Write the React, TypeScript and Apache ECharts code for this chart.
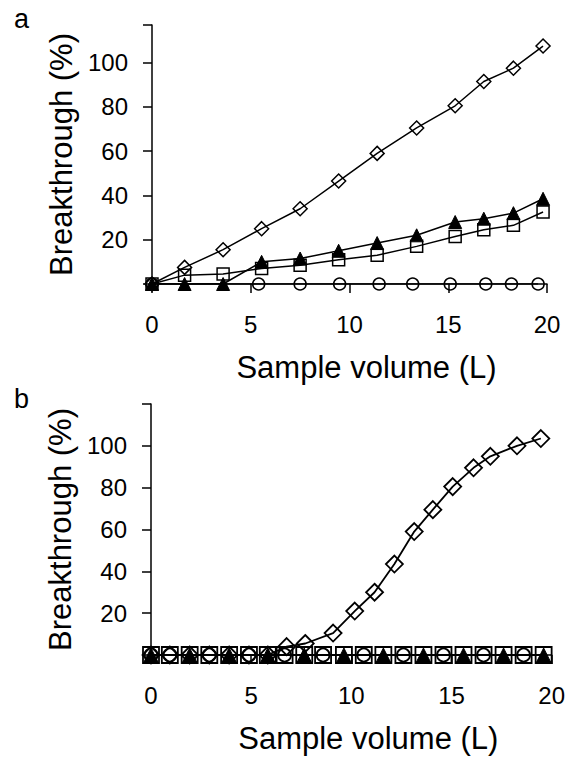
import React, { useEffect, useRef } from 'react';
import * as echarts from 'echarts';

// ---------- Panel a ----------
const aX = [0, 1.65, 3.6, 5.55, 7.5, 9.45, 11.4, 13.4, 15.35, 16.8, 18.3, 19.8];
const aDiamond = [0, 7.5, 15.5, 25, 34, 46.5, 59, 70.5, 80.5, 91.5, 97.5, 107.5];
const aSquare = [0, 4, 4.5, 7, 8.5, 11, 13, 17, 21.5, 24.5, 26.5, 32.5];
const aTriangle = [0, 0, 0, 10, 11.5, 15, 18.5, 22, 28, 29.5, 32, 38.5];
const aCircleX = [0, 5.4, 7.5, 9.5, 11.5, 13.2, 15.1, 16.9, 18.2, 19.55];
const aCircle = [0, 0, 0, 0, 0, 0, 0, 0, 0, 0];

// ---------- Panel b ----------
const bSquareX = [0, 0.94, 1.93, 2.91, 3.9, 4.89, 5.83, 6.67, 7.65, 8.59, 9.63, 10.62, 11.6, 12.6, 13.6, 14.6, 15.6, 16.6, 17.6, 18.6, 19.6];
const bSquare = [0, 0, 0, 0, 0, 0, 0, 0, 0, 0, 0, 0, 0, 0, 0, 0, 0, 0, 0, 0, 0];
const bTriangleX = [0, 1.93, 3.9, 5.83, 7.65, 9.63, 11.6, 13.6, 15.6, 17.6, 19.6];
const bTriangle = [0, 0, 0, 0, 0, 0, 0, 0, 0, 0, 0];
const bCircleX = [0, 0.94, 2.91, 4.89, 6.67, 8.59, 10.62, 12.6, 14.6, 16.6, 18.6];
const bCircle = [0, 0, 0, 0, 0, 0, 0, 0, 0, 0, 0];
const bDiamondX = [0, 0.94, 1.93, 2.91, 3.9, 4.89, 5.83, 6.77, 7.7, 9.09, 10.17, 11.16, 12.15, 13.14, 14.07, 15.06, 16.1, 16.94, 18.27, 19.46];
const bDiamond = [0, 0, 0, 0, 0, 0, 0, 4, 5.5, 10.5, 21, 30, 43.5, 59, 69.5, 80.5, 89.5, 95, 100, 103.5];

// ---------- Axes ----------
const xTicks = [0, 5, 10, 15, 20];
const yLabelValues = [20, 40, 60, 80, 100];
const aYMax = 117;
const bYMax = 120;
const xTitle = 'Sample volume (L)';
const yTitle = 'Breakthrough (%)';
const panelLabels = ['a', 'b'];

const FONT = 'Liberation Sans, Arial, sans-serif';

const pairs = (xs: number[], ys: number[]) => xs.map((x, i) => [x, ys[i]]);

function makeSeries(
  idx: number,
  data: number[][],
  symbol: string,
  size: number,
  filled: boolean,
  lw: number
) {
  return {
    type: 'line',
    xAxisIndex: idx,
    yAxisIndex: idx,
    data,
    symbol,
    symbolSize: size,
    showSymbol: true,
    lineStyle: { color: '#000', width: lw },
    itemStyle: {
      color: filled ? '#000' : 'rgba(0,0,0,0)',
      borderColor: '#000',
      borderWidth: filled ? 1 : lw,
    },
    emphasis: { disabled: true },
    z: 3,
  };
}

function xAxisFor(idx: number, lw: number) {
  return {
    type: 'value',
    gridIndex: idx,
    min: 0,
    max: 20,
    interval: 5,
    axisLine: { show: true, onZero: false, lineStyle: { color: '#000', width: lw } },
    axisTick: { show: true, length: 9, customValues: xTicks, lineStyle: { color: '#000', width: lw } },
    axisLabel: { customValues: xTicks, color: '#000', fontSize: 24, fontFamily: FONT, margin: 28 },
    splitLine: { show: false },
    name: xTitle,
    nameLocation: 'middle',
    nameGap: 68,
    nameTextStyle: { color: '#000', fontSize: 31, fontFamily: FONT, padding: [0, 0, 0, 34] },
  };
}

function yAxisFor(idx: number, max: number, lw: number) {
  return {
    type: 'value',
    gridIndex: idx,
    min: 0,
    max,
    interval: 20,
    axisLine: { show: true, lineStyle: { color: '#000', width: lw } },
    axisTick: {
      show: true,
      length: 9,
      customValues: [0, ...yLabelValues, max],
      lineStyle: { color: '#000', width: lw },
    },
    axisLabel: { customValues: yLabelValues, color: '#000', fontSize: 24, fontFamily: FONT, margin: 24 },
    splitLine: { show: false },
    name: yTitle,
    nameLocation: 'middle',
    nameRotate: 90,
    nameGap: 72,
    nameTextStyle: { color: '#000', fontSize: 31, fontFamily: FONT },
  };
}

export default function App() {
  const ref = useRef<HTMLDivElement>(null);
  useEffect(() => {
    document.body.style.margin = '0';
    if (!ref.current) return;
    const chart = echarts.init(ref.current, null, { renderer: 'svg' });
    chart.setOption({
      animation: false,
      backgroundColor: '#fff',
      grid: [
        { left: 152, top: 25, width: 395, height: 259 },
        { left: 151, top: 404, width: 406, height: 251 },
      ],
      xAxis: [xAxisFor(0, 1.5), xAxisFor(1, 1.5)],
      yAxis: [yAxisFor(0, aYMax, 1.5), yAxisFor(1, bYMax, 1.5)],
      graphic: [
        {
          type: 'text',
          left: 14,
          top: 5,
          style: { text: panelLabels[0], font: `27px ${FONT}`, fill: '#000' },
        },
        {
          type: 'text',
          left: 14,
          top: 385,
          style: { text: panelLabels[1], font: `27px ${FONT}`, fill: '#000' },
        },
      ],
      series: [
        makeSeries(0, pairs(aCircleX, aCircle), 'circle', 12, false, 1.5),
        makeSeries(0, pairs(aX, aSquare), 'rect', 12, false, 1.5),
        makeSeries(0, pairs(aX, aTriangle), 'triangle', 13, true, 1.5),
        makeSeries(0, pairs(aX, aDiamond), 'diamond', 14, false, 1.5),
        makeSeries(1, pairs(bSquareX, bSquare), 'rect', 16, false, 1.8),
        makeSeries(1, pairs(bCircleX, bCircle), 'circle', 13, false, 1.8),
        makeSeries(1, pairs(bTriangleX, bTriangle), 'triangle', 14, true, 1.8),
        makeSeries(1, pairs(bDiamondX, bDiamond), 'diamond', 17, false, 1.8),
      ],
    });
    return () => chart.dispose();
  }, []);
  return <div ref={ref} style={{ width: 568, height: 757 }} />;
}
